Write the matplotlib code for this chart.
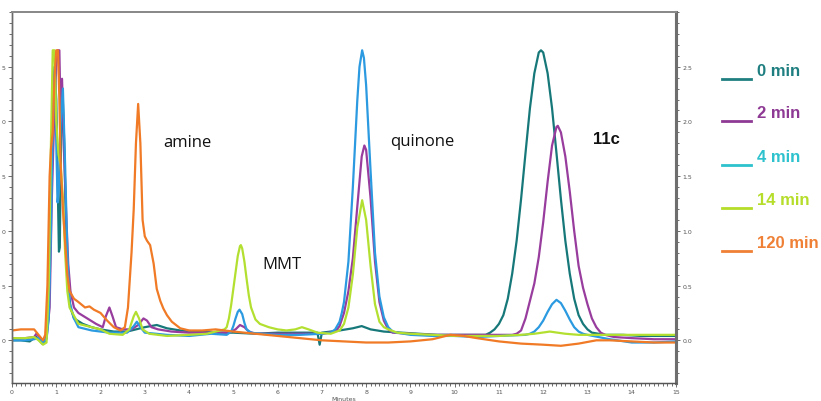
#!/usr/bin/env python3
"""HPLC traces of the 11c reaction at several time points."""

import matplotlib
matplotlib.use("Agg")
import matplotlib.pyplot as plt
from matplotlib.lines import Line2D
from matplotlib.ticker import MultipleLocator

# ---- data (time in min, absorbance) ----
t_0min = [0.0, 0.2, 0.4, 0.5, 0.55, 0.62, 0.68, 0.75, 0.82, 0.87, 0.92, 0.96, 1.0,
          1.03, 1.06, 1.08, 1.1, 1.14, 1.18, 1.22, 1.27, 1.32, 1.4, 1.6, 1.8, 2.0,
          2.3, 2.6, 2.8, 3.0, 3.27, 3.5, 3.8, 4.2, 4.6, 5.0, 5.5, 6.0, 6.5, 6.9,
          6.95, 7.0, 7.4, 7.7, 7.9, 8.1, 8.4, 8.8, 9.2, 9.6, 10.0, 10.4, 10.7, 10.8,
          10.9, 11.0, 11.1, 11.2, 11.3, 11.4, 11.5, 11.6, 11.7, 11.8, 11.9, 11.95,
          12.0, 12.1, 12.2, 12.3, 12.4, 12.5, 12.6, 12.7, 12.8, 12.9, 13.0, 13.1,
          13.4, 13.8, 14.2, 14.6, 15.0]
a_0min = [0.0, 0.0, -0.01, 0.02, 0.03, 0.0, -0.03, -0.02, 0.2, 1.0, 2.0, 2.5, 2.2,
          1.5, 0.81, 0.85, 1.6, 2.3, 1.8, 1.0, 0.5, 0.3, 0.2, 0.15, 0.12, 0.1,
          0.08, 0.08, 0.1, 0.12, 0.14, 0.11, 0.09, 0.08, 0.07, 0.07, 0.06, 0.07,
          0.07, 0.07, -0.04, 0.07, 0.09, 0.11, 0.13, 0.1, 0.08, 0.07, 0.06, 0.05,
          0.05, 0.05, 0.05, 0.07, 0.10, 0.15, 0.23, 0.38, 0.61, 0.91, 1.29, 1.71,
          2.12, 2.44, 2.63, 2.65, 2.63, 2.44, 2.12, 1.71, 1.29, 0.91, 0.61, 0.38,
          0.23, 0.15, 0.10, 0.07, 0.05, 0.05, 0.04, 0.04, 0.04]

t_2min = [0.0, 0.3, 0.5, 0.55, 0.62, 0.7, 0.78, 0.85, 0.9, 0.95, 1.0, 1.03, 1.07,
          1.1, 1.13, 1.17, 1.22, 1.27, 1.32, 1.4, 1.5, 1.7, 1.9, 2.05, 2.12, 2.2,
          2.27, 2.35, 2.5, 2.7, 2.85, 2.97, 3.05, 3.15, 3.3, 3.6, 4.0, 4.5, 4.9,
          5.05, 5.15, 5.25, 5.35, 5.5, 6.0, 6.5, 7.0, 7.3, 7.4, 7.5, 7.6, 7.7, 7.8,
          7.9, 7.96, 8.0, 8.1, 8.2, 8.3, 8.4, 8.5, 8.6, 9.0, 9.5, 10.0, 10.5, 11.0,
          11.3, 11.4, 11.5, 11.6, 11.7, 11.8, 11.9, 12.0, 12.1, 12.2, 12.3, 12.33,
          12.4, 12.5, 12.6, 12.7, 12.8, 12.9, 13.0, 13.1, 13.2, 13.3, 13.4, 13.6,
          14.0, 14.5, 15.0]
a_2min = [0.02, 0.02, 0.03, 0.06, 0.03, -0.02, 0.02, 0.3, 1.3, 2.0, 2.5, 2.65, 2.65,
          2.0, 2.39, 1.8, 1.2, 0.7, 0.45, 0.3, 0.25, 0.2, 0.15, 0.12, 0.22, 0.30,
          0.22, 0.12, 0.1, 0.1, 0.14, 0.2, 0.18, 0.12, 0.1, 0.08, 0.07, 0.07, 0.07,
          0.1, 0.14, 0.12, 0.08, 0.06, 0.06, 0.06, 0.06, 0.08, 0.13, 0.25, 0.45,
          0.75, 1.22, 1.68, 1.78, 1.74, 1.30, 0.72, 0.35, 0.18, 0.10, 0.07, 0.06,
          0.05, 0.05, 0.05, 0.05, 0.05, 0.06, 0.09, 0.20, 0.36, 0.52, 0.76, 1.08,
          1.45, 1.78, 1.95, 1.96, 1.90, 1.68, 1.36, 1.00, 0.68, 0.48, 0.33, 0.20,
          0.12, 0.07, 0.05, 0.03, 0.02, 0.01, 0.01]

t_4min = [0.0, 0.3, 0.5, 0.6, 0.7, 0.78, 0.83, 0.88, 0.93, 0.97, 1.0, 1.03, 1.06,
          1.1, 1.15, 1.2, 1.25, 1.3, 1.4, 1.5, 1.8, 2.2, 2.6, 2.75, 2.82, 2.9, 3.0,
          3.5, 4.0, 4.5, 4.85, 4.95, 5.0, 5.05, 5.1, 5.14, 5.2, 5.25, 5.3, 5.4, 5.6,
          6.0, 6.5, 7.0, 7.2, 7.3, 7.4, 7.45, 7.5, 7.6, 7.7, 7.8, 7.85, 7.91, 7.95,
          8.0, 8.1, 8.2, 8.3, 8.4, 8.5, 8.6, 8.7, 9.0, 9.5, 10.0, 10.5, 11.0, 11.6,
          11.7, 11.8, 11.9, 12.0, 12.1, 12.2, 12.3, 12.4, 12.5, 12.6, 12.7, 12.8,
          12.9, 13.0, 13.5, 14.0, 14.5, 15.0]
a_4min = [0.0, 0.0, 0.01, 0.02, -0.02, 0.01, 0.2, 1.0, 2.2, 2.5, 1.8, 1.26, 1.4,
          2.0, 2.3, 1.6, 0.8, 0.35, 0.2, 0.12, 0.09, 0.07, 0.07, 0.13, 0.17, 0.12,
          0.07, 0.05, 0.04, 0.06, 0.05, 0.08, 0.13, 0.20, 0.26, 0.28, 0.24, 0.16,
          0.10, 0.07, 0.06, 0.05, 0.05, 0.06, 0.07, 0.10, 0.17, 0.25, 0.35, 0.72,
          1.40, 2.19, 2.50, 2.65, 2.58, 2.33, 1.55, 0.80, 0.40, 0.21, 0.12, 0.08,
          0.07, 0.05, 0.04, 0.04, 0.03, 0.04, 0.05, 0.06, 0.08, 0.12, 0.18, 0.26,
          0.33, 0.37, 0.34, 0.27, 0.19, 0.12, 0.08, 0.06, 0.05, 0.01, -0.02, -0.02,
          -0.01]

t_14min = [0.0, 0.3, 0.5, 0.6, 0.7, 0.78, 0.83, 0.88, 0.92, 0.96, 1.0, 1.05, 1.1,
           1.15, 1.2, 1.25, 1.3, 1.5, 1.8, 2.0, 2.2, 2.5, 2.65, 2.75, 2.8, 2.87,
           2.95, 3.1, 3.5, 4.0, 4.4, 4.6, 4.8, 4.85, 4.9, 4.95, 5.0, 5.05, 5.1,
           5.15, 5.17, 5.2, 5.25, 5.3, 5.35, 5.4, 5.5, 5.6, 5.8, 6.0, 6.2, 6.4,
           6.55, 6.7, 6.9, 7.2, 7.4, 7.5, 7.6, 7.7, 7.8, 7.91, 8.0, 8.1, 8.2, 8.3,
           8.4, 8.5, 8.7, 9.0, 9.5, 10.0, 10.5, 11.0, 11.5, 11.8, 12.15, 12.5,
           12.8, 13.2, 13.6, 14.0, 14.5, 15.0]
a_14min = [0.02, 0.02, 0.03, 0.0, -0.04, -0.02, 0.5, 1.8, 2.65, 2.65, 2.0, 1.7, 1.6,
           1.3, 0.8, 0.45, 0.3, 0.15, 0.12, 0.1, 0.06, 0.05, 0.1, 0.22, 0.26, 0.2,
           0.1, 0.06, 0.04, 0.05, 0.06, 0.08, 0.10, 0.12, 0.2, 0.32, 0.47, 0.62,
           0.77, 0.86, 0.87, 0.84, 0.72, 0.56, 0.41, 0.30, 0.19, 0.15, 0.12, 0.10,
           0.09, 0.10, 0.12, 0.10, 0.07, 0.06, 0.09, 0.15, 0.30, 0.60, 1.03, 1.28,
           1.10, 0.68, 0.33, 0.17, 0.12, 0.10, 0.07, 0.06, 0.05, 0.04, 0.04, 0.04,
           0.05, 0.06, 0.08, 0.06, 0.05, 0.05, 0.05, 0.05, 0.05, 0.05]

t_120min = [0.0, 0.2, 0.4, 0.5, 0.6, 0.7, 0.75, 0.8, 0.85, 0.88, 0.92, 0.96, 1.0,
            1.04, 1.07, 1.1, 1.15, 1.2, 1.25, 1.3, 1.4, 1.5, 1.65, 1.75, 1.85,
            2.0, 2.15, 2.3, 2.45, 2.55, 2.62, 2.7, 2.75, 2.8, 2.85, 2.9, 2.95, 3.0,
            3.05, 3.12, 3.2, 3.27, 3.35, 3.42, 3.5, 3.61, 3.8, 4.0, 4.3, 4.6, 5.0,
            5.5, 6.0, 6.5, 7.0, 7.5, 8.0, 8.5, 9.0, 9.5, 9.9, 10.2, 10.5, 11.0,
            11.5, 12.0, 12.4, 12.8, 13.2, 13.5, 14.0, 14.5, 15.0]
a_120min = [0.09, 0.1, 0.1, 0.1, 0.05, 0.0, 0.05, 0.5, 1.5, 1.75, 1.9, 2.4, 2.65,
            2.65, 2.2, 1.6, 1.2, 0.9, 0.6, 0.45, 0.38, 0.35, 0.3, 0.31, 0.28,
            0.25, 0.18, 0.12, 0.09, 0.12, 0.3, 0.8, 1.2, 1.8, 2.16, 1.8, 1.1, 0.95,
            0.91, 0.87, 0.7, 0.47, 0.36, 0.29, 0.23, 0.17, 0.11, 0.09, 0.09, 0.1,
            0.08, 0.06, 0.04, 0.02, 0.0, -0.01, -0.02, -0.02, -0.01, 0.01, 0.05,
            0.04, 0.02, -0.01, -0.03, -0.04, -0.05, -0.03, 0.0, 0.0, -0.01, -0.02,
            -0.02]

series_labels = ["0 min", "2 min", "4 min", "14 min", "120 min"]
line_colors = ["#17787a", "#983d9e", "#2b9ae0", "#b3e030", "#f07a25"]
legend_colors = ["#1f7f80", "#8e3a94", "#2dc2cd", "#b5dd2a", "#ef8035"]

peak_names = ["amine", "MMT", "quinone", "11c"]
peak_pos = [(3.41, 1.81), (5.65, 0.70), (8.54, 1.82), (13.12, 1.84)]

y_ticks = [0.0, 0.5, 1.0, 1.5, 2.0, 2.5]
left_labels = ["0", "5", "0", "5", "0", "5"]  # cut off at the image edge
right_labels = ["0.0", "0.5", "1.0", "1.5", "2.0", "2.5"]


def main() -> None:
    W, H = 821, 402
    fig = plt.figure(figsize=(W / 100, H / 100), dpi=100)
    ax = fig.add_axes([12 / W, (H - 384) / H, (676 - 12) / W, (384 - 13) / H])

    times = [t_0min, t_2min, t_4min, t_14min, t_120min]
    values = [a_0min, a_2min, a_4min, a_14min, a_120min]
    for t, a, c in zip(times, values, line_colors):
        ax.plot(t, a, color=c, lw=1.6, solid_joinstyle="round")

    ax.set_xlim(0, 15)
    ax.set_ylim(-0.39, 3.0)

    tick_col = "#555555"
    ax.set_xticks(range(16))
    ax.set_xticklabels([str(i) for i in range(16)], fontsize=4.5, color=tick_col)
    ax.xaxis.set_minor_locator(MultipleLocator(0.1))
    ax.set_yticks(y_ticks)
    ax.set_yticklabels(left_labels, fontsize=4.5, color=tick_col)
    ax.yaxis.set_minor_locator(MultipleLocator(0.1))
    ax.tick_params(which="both", direction="out", color=tick_col, width=0.6, pad=1.5)
    ax.tick_params(which="major", length=3)
    ax.tick_params(which="minor", length=2)

    ax2 = ax.twinx()
    ax2.set_ylim(ax.get_ylim())
    ax2.set_yticks(y_ticks)
    ax2.set_yticklabels(right_labels, fontsize=4.5, color=tick_col)
    ax2.yaxis.set_minor_locator(MultipleLocator(0.1))
    ax2.tick_params(which="both", direction="out", color=tick_col, width=0.6, pad=1.5)
    ax2.tick_params(which="major", length=3)
    ax2.tick_params(which="minor", length=2)

    for a in (ax, ax2):
        a.spines["top"].set_color("#8a8a8a")
        a.spines["top"].set_linewidth(1.4)
        a.spines["left"].set_color("#6a6a6a")
        a.spines["left"].set_linewidth(1.0)
        a.spines["bottom"].set_color("#555555")
        a.spines["bottom"].set_linewidth(0.9)
        a.spines["right"].set_color("#6e6e6e")
        a.spines["right"].set_linewidth(2.2)

    ax.set_xlabel("Minutes", fontsize=4.5, color=tick_col, labelpad=1)

    for name, (x, y) in zip(peak_names, peak_pos):
        bold = name == "11c"
        ax.text(x, y, name, ha="left", va="center",
                fontsize=12,
                family="Liberation Sans" if bold else "Open Sans",
                fontweight="bold" if bold else "normal", color="#111111")

    # legend drawn by hand to the right of the frame
    line_y = [80, 122, 166, 209, 252]
    for lab, c, ly in zip(series_labels, legend_colors, line_y):
        fig.add_artist(Line2D([722 / W, 751 / W], [1 - ly / H, 1 - ly / H],
                              color=c, lw=2.0, transform=fig.transFigure))
        fig.text(757 / W, 1 - (ly - 8) / H, lab, ha="left", va="center",
                 fontsize=12, fontweight="bold", color=c, family="Liberation Sans")

    fig.savefig("out.png", dpi=100)


if __name__ == "__main__":
    main()
